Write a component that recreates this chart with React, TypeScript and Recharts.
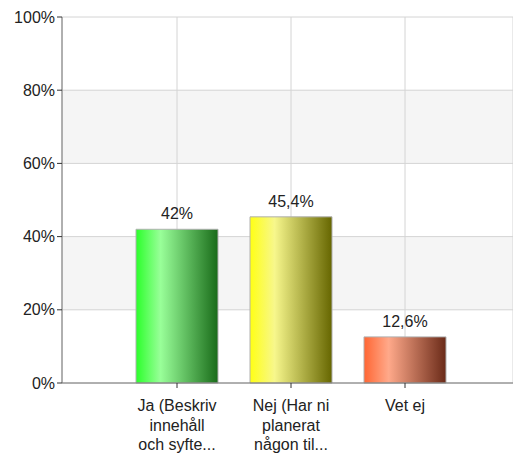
import { BarChart, Bar, XAxis, YAxis, CartesianGrid, LabelList, Cell } from 'recharts';

// Survey answers (share of respondents, %)
const categories = ['Ja (Beskriv innehåll och syfte...', 'Nej (Har ni planerat någon til...', 'Vet ej'];
const tickLines = [
    ['Ja (Beskriv', 'innehåll', 'och syfte...'],
    ['Nej (Har ni', 'planerat', 'någon til...'],
    ['Vet ej'],
];
const values = [42, 45.4, 12.6];
const valueLabels = ['42%', '45,4%', '12,6%'];
const yTicks = [0, 20, 40, 60, 80, 100];

// gradient stops per bar: left, highlight, right
const gradients = [
    ['#2bff2b', '#99ff99', '#196b19'],
    ['#ffff14', '#f7f78c', '#666600'],
    ['#ff6633', '#ffa98a', '#6a2a18'],
];

const data = categories.map((name, i) => ({ name, value: values[i], label: valueLabels[i], idx: i }));

const font = '"Liberation Sans", Arial, sans-serif';

function XTick({ x, y, payload }: any) {
    const lines = tickLines[payload.index] || [];
    return (
        <text x={x} y={y + 5} textAnchor="middle" fill="#222" fontSize={16} fontFamily={font}>
            {lines.map((l, i) => (
                <tspan key={i} x={x} dy={i === 0 ? 16 : 19.5}>{l}</tspan>
            ))}
        </text>
    );
}

export default function App() {
    return (
        <div style={{ position: 'absolute', left: 0, top: 0, width: 513, height: 455, overflow: 'hidden', background: '#fff' }}>
            <BarChart width={513} height={455} data={data} margin={{ top: 17, right: 0, left: 0, bottom: 42 }}>
                <defs>
                    {gradients.map((g, i) => (
                        <linearGradient key={i} id={`grad${i}`} x1="0" y1="0" x2="1" y2="0">
                            <stop offset="0%" stopColor={g[0]} />
                            <stop offset="30%" stopColor={g[1]} />
                            <stop offset="100%" stopColor={g[2]} />
                        </linearGradient>
                    ))}
                </defs>
                <CartesianGrid stroke="#d4d4d4" horizontalFill={['#ffffff', '#f5f5f5']} />
                <XAxis
                    dataKey="name"
                    interval={0}
                    padding={{ left: 58, right: 51 }}
                    stroke="#777"
                    tickSize={5}
                    tickLine={{ stroke: '#333' }}
                    tick={<XTick />}
                />
                <YAxis
                    domain={[0, 100]}
                    ticks={yTicks}
                    width={62}
                    stroke="#777"
                    tickSize={5}
                    tickLine={{ stroke: '#333' }}
                    tickFormatter={(v) => `${v}%`}
                    tick={{ fill: '#222', fontSize: 16, fontFamily: font }}
                />
                <Bar dataKey="value" barSize={82} isAnimationActive={false} stroke="#b0b0b0" strokeWidth={1}>
                    {data.map((d) => (
                        <Cell key={d.idx} fill={`url(#grad${d.idx})`} />
                    ))}
                    <LabelList dataKey="label" position="top" offset={10} fill="#222" fontSize={16} fontFamily={font} />
                </Bar>
            </BarChart>
        </div>
    );
}
